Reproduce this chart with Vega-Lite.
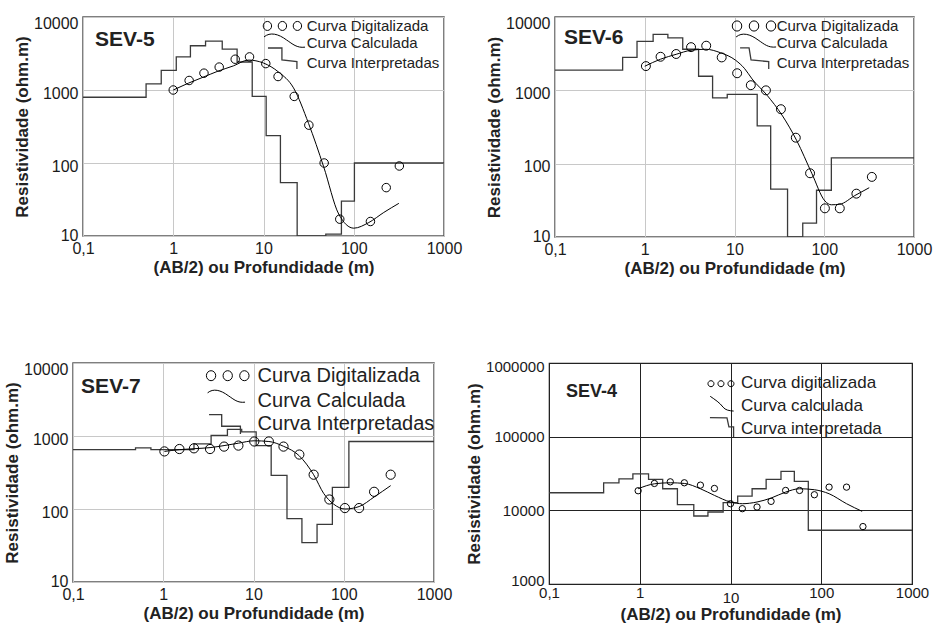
{
  "$schema": "https://vega.github.io/schema/vega-lite/v6.json",
  "background": "white",
  "padding": {"left": 2, "top": 14, "right": 5, "bottom": 5},
  "config": {
    "font": "Liberation Sans",
    "view": {"stroke": "#555", "strokeWidth": 1.5},
    "axis": {
      "ticks": false, "domain": false, "grid": true,
      "gridColor": "#c8c8c8", "gridWidth": 1, "gridOpacity": 1,
      "labelFont": "Liberation Sans", "labelFontSize": 16, "labelColor": "#1a1a1a",
      "titleFont": "Liberation Sans", "titleFontSize": 17, "titleFontWeight": "bold", "titleColor": "#222"
    },
    "axisX": {"labelFlush": false, "labelPadding": 4, "titlePadding": 3},
    "axisY": {"labelPadding": 5, "titlePadding": 2}
  },
  "datasets": {
    "curves": [
      {"p":"SEV-5","s":"d","x":1,"y":1000},{"p":"SEV-5","s":"d","x":1.5,"y":1350},{"p":"SEV-5","s":"d","x":2.19,"y":1700},{"p":"SEV-5","s":"d","x":3.23,"y":2060},{"p":"SEV-5","s":"d","x":4.86,"y":2640},{"p":"SEV-5","s":"d","x":7.0,"y":2840},{"p":"SEV-5","s":"d","x":10.6,"y":2300},{"p":"SEV-5","s":"d","x":14.5,"y":1530},{"p":"SEV-5","s":"d","x":21.9,"y":817},{"p":"SEV-5","s":"d","x":31.8,"y":330},{"p":"SEV-5","s":"d","x":47,"y":100},{"p":"SEV-5","s":"d","x":70,"y":17},{"p":"SEV-5","s":"d","x":153,"y":15.8},{"p":"SEV-5","s":"d","x":229,"y":46},{"p":"SEV-5","s":"d","x":320,"y":91},
      {"p":"SEV-5","s":"c","x":1,"y":1000},{"p":"SEV-5","s":"c","x":1.47,"y":1240},{"p":"SEV-5","s":"c","x":2.15,"y":1500},{"p":"SEV-5","s":"c","x":3.16,"y":1820},{"p":"SEV-5","s":"c","x":4.64,"y":2140},{"p":"SEV-5","s":"c","x":6.81,"y":2570},{"p":"SEV-5","s":"c","x":10,"y":2340},{"p":"SEV-5","s":"c","x":14.7,"y":1760},{"p":"SEV-5","s":"c","x":21.5,"y":1070},{"p":"SEV-5","s":"c","x":31.6,"y":347},{"p":"SEV-5","s":"c","x":46.4,"y":89},{"p":"SEV-5","s":"c","x":68.1,"y":20},{"p":"SEV-5","s":"c","x":100,"y":12.8},{"p":"SEV-5","s":"c","x":147,"y":15.3},{"p":"SEV-5","s":"c","x":215,"y":21},{"p":"SEV-5","s":"c","x":316,"y":28},
      {"p":"SEV-5","s":"i","x":0.1,"y":795},{"p":"SEV-5","s":"i","x":0.5,"y":1210},{"p":"SEV-5","s":"i","x":0.736,"y":1855},{"p":"SEV-5","s":"i","x":1.08,"y":2840},{"p":"SEV-5","s":"i","x":1.55,"y":4040},{"p":"SEV-5","s":"i","x":2.28,"y":4680},{"p":"SEV-5","s":"i","x":3.49,"y":3630},{"p":"SEV-5","s":"i","x":5.1,"y":2420},{"p":"SEV-5","s":"i","x":7.5,"y":817},{"p":"SEV-5","s":"i","x":10.7,"y":237},{"p":"SEV-5","s":"i","x":15.4,"y":54},{"p":"SEV-5","s":"i","x":23.6,"y":10},{"p":"SEV-5","s":"i","x":49,"y":10.6},{"p":"SEV-5","s":"i","x":73,"y":30},{"p":"SEV-5","s":"i","x":101.7,"y":100},{"p":"SEV-5","s":"i","x":1000,"y":100},

      {"p":"SEV-6","s":"d","x":1.03,"y":2140},{"p":"SEV-6","s":"d","x":1.5,"y":2870},{"p":"SEV-6","s":"d","x":2.24,"y":3130},{"p":"SEV-6","s":"d","x":3.28,"y":3880},{"p":"SEV-6","s":"d","x":4.84,"y":4060},{"p":"SEV-6","s":"d","x":7.2,"y":2810},{"p":"SEV-6","s":"d","x":10.7,"y":1710},{"p":"SEV-6","s":"d","x":15.2,"y":1175},{"p":"SEV-6","s":"d","x":22.4,"y":1000},{"p":"SEV-6","s":"d","x":32.9,"y":553},{"p":"SEV-6","s":"d","x":48.2,"y":226},{"p":"SEV-6","s":"d","x":69.5,"y":74},{"p":"SEV-6","s":"d","x":101.7,"y":24.6},{"p":"SEV-6","s":"d","x":149,"y":24.6},{"p":"SEV-6","s":"d","x":228,"y":39},{"p":"SEV-6","s":"d","x":339,"y":66},
      {"p":"SEV-6","s":"c","x":1,"y":2130},{"p":"SEV-6","s":"c","x":1.5,"y":2660},{"p":"SEV-6","s":"c","x":2.24,"y":3100},{"p":"SEV-6","s":"c","x":3.28,"y":3520},{"p":"SEV-6","s":"c","x":4.8,"y":3630},{"p":"SEV-6","s":"c","x":7.0,"y":3250},{"p":"SEV-6","s":"c","x":10.3,"y":2570},{"p":"SEV-6","s":"c","x":13,"y":1970},{"p":"SEV-6","s":"c","x":15.7,"y":1430},{"p":"SEV-6","s":"c","x":23,"y":860},{"p":"SEV-6","s":"c","x":33.8,"y":460},{"p":"SEV-6","s":"c","x":49.5,"y":205},{"p":"SEV-6","s":"c","x":72.6,"y":74},{"p":"SEV-6","s":"c","x":101.7,"y":31},{"p":"SEV-6","s":"c","x":120,"y":27.5},{"p":"SEV-6","s":"c","x":149,"y":28},{"p":"SEV-6","s":"c","x":219,"y":36.7},{"p":"SEV-6","s":"c","x":317,"y":47},
      {"p":"SEV-6","s":"i","x":0.1,"y":1890},{"p":"SEV-6","s":"i","x":0.567,"y":2810},{"p":"SEV-6","s":"i","x":0.82,"y":4660},{"p":"SEV-6","s":"i","x":1.24,"y":5780},{"p":"SEV-6","s":"i","x":1.81,"y":5190},{"p":"SEV-6","s":"i","x":2.65,"y":3630},{"p":"SEV-6","s":"i","x":3.98,"y":1555},{"p":"SEV-6","s":"i","x":5.7,"y":790},{"p":"SEV-6","s":"i","x":8.3,"y":880},{"p":"SEV-6","s":"i","x":17.9,"y":327},{"p":"SEV-6","s":"i","x":25.3,"y":45},{"p":"SEV-6","s":"i","x":39,"y":10},{"p":"SEV-6","s":"i","x":57.6,"y":15.5},{"p":"SEV-6","s":"i","x":82,"y":43.4},{"p":"SEV-6","s":"i","x":120,"y":120},{"p":"SEV-6","s":"i","x":1000,"y":120},

      {"p":"SEV-7","s":"d","x":1.03,"y":615},{"p":"SEV-7","s":"d","x":1.51,"y":663},{"p":"SEV-7","s":"d","x":2.19,"y":678},{"p":"SEV-7","s":"d","x":3.3,"y":663},{"p":"SEV-7","s":"d","x":4.72,"y":716},{"p":"SEV-7","s":"d","x":6.8,"y":739},{"p":"SEV-7","s":"d","x":10.2,"y":841},{"p":"SEV-7","s":"d","x":14.8,"y":841},{"p":"SEV-7","s":"d","x":21.5,"y":716},{"p":"SEV-7","s":"d","x":32.2,"y":557},{"p":"SEV-7","s":"d","x":46.4,"y":295},{"p":"SEV-7","s":"d","x":69.3,"y":135},{"p":"SEV-7","s":"d","x":103,"y":103},{"p":"SEV-7","s":"d","x":148,"y":103},{"p":"SEV-7","s":"d","x":217,"y":172},{"p":"SEV-7","s":"d","x":331,"y":295},
      {"p":"SEV-7","s":"c","x":1.03,"y":615},{"p":"SEV-7","s":"c","x":1.51,"y":650},{"p":"SEV-7","s":"c","x":2.19,"y":670},{"p":"SEV-7","s":"c","x":3.3,"y":693},{"p":"SEV-7","s":"c","x":4.72,"y":739},{"p":"SEV-7","s":"c","x":6.8,"y":797},{"p":"SEV-7","s":"c","x":10.2,"y":860},{"p":"SEV-7","s":"c","x":14.8,"y":841},{"p":"SEV-7","s":"c","x":21.5,"y":723},{"p":"SEV-7","s":"c","x":32.2,"y":534},{"p":"SEV-7","s":"c","x":46.4,"y":295},{"p":"SEV-7","s":"c","x":60,"y":163},{"p":"SEV-7","s":"c","x":77,"y":117},{"p":"SEV-7","s":"c","x":103,"y":100},{"p":"SEV-7","s":"c","x":148,"y":108},{"p":"SEV-7","s":"c","x":217,"y":146},{"p":"SEV-7","s":"c","x":331,"y":209},
      {"p":"SEV-7","s":"i","x":0.1,"y":649},{"p":"SEV-7","s":"i","x":0.493,"y":686},{"p":"SEV-7","s":"i","x":0.73,"y":649},{"p":"SEV-7","s":"i","x":2.19,"y":780},{"p":"SEV-7","s":"i","x":3.39,"y":1020},{"p":"SEV-7","s":"i","x":5.14,"y":1230},{"p":"SEV-7","s":"i","x":7.4,"y":1140},{"p":"SEV-7","s":"i","x":10.7,"y":739},{"p":"SEV-7","s":"i","x":15.7,"y":289},{"p":"SEV-7","s":"i","x":23.5,"y":74},{"p":"SEV-7","s":"i","x":34.4,"y":34.7},{"p":"SEV-7","s":"i","x":50.6,"y":61.5},{"p":"SEV-7","s":"i","x":74.8,"y":198},{"p":"SEV-7","s":"i","x":114,"y":841},{"p":"SEV-7","s":"i","x":1000,"y":841},

      {"p":"SEV-4","s":"d","x":0.96,"y":18450},{"p":"SEV-4","s":"d","x":1.45,"y":23170},{"p":"SEV-4","s":"d","x":2.17,"y":24380},{"p":"SEV-4","s":"d","x":3.1,"y":23660},{"p":"SEV-4","s":"d","x":4.66,"y":21980},{"p":"SEV-4","s":"d","x":6.65,"y":19820},{"p":"SEV-4","s":"d","x":10,"y":12300},{"p":"SEV-4","s":"d","x":13.5,"y":10530},{"p":"SEV-4","s":"d","x":19.6,"y":11090},{"p":"SEV-4","s":"d","x":28,"y":13230},{"p":"SEV-4","s":"d","x":40.5,"y":18620},{"p":"SEV-4","s":"d","x":57.7,"y":18620},{"p":"SEV-4","s":"d","x":84,"y":16280},{"p":"SEV-4","s":"d","x":122,"y":20650},{"p":"SEV-4","s":"d","x":190,"y":20650},{"p":"SEV-4","s":"d","x":288,"y":6020},
      {"p":"SEV-4","s":"c","x":0.96,"y":19630},{"p":"SEV-4","s":"c","x":1.45,"y":22910},{"p":"SEV-4","s":"c","x":2.17,"y":23660},{"p":"SEV-4","s":"c","x":3.1,"y":23170},{"p":"SEV-4","s":"c","x":4.66,"y":19630},{"p":"SEV-4","s":"c","x":6.65,"y":15960},{"p":"SEV-4","s":"c","x":10,"y":12970},{"p":"SEV-4","s":"c","x":13.5,"y":12300},{"p":"SEV-4","s":"c","x":19.6,"y":12970},{"p":"SEV-4","s":"c","x":28,"y":14680},{"p":"SEV-4","s":"c","x":40.5,"y":17700},{"p":"SEV-4","s":"c","x":57.7,"y":19630},{"p":"SEV-4","s":"c","x":84,"y":19040},{"p":"SEV-4","s":"c","x":122,"y":16790},{"p":"SEV-4","s":"c","x":190,"y":12300},{"p":"SEV-4","s":"c","x":282,"y":9690},
      {"p":"SEV-4","s":"i","x":0.1,"y":17330},{"p":"SEV-4","s":"i","x":0.4,"y":23660},{"p":"SEV-4","s":"i","x":0.59,"y":26790},{"p":"SEV-4","s":"i","x":0.84,"y":31290},{"p":"SEV-4","s":"i","x":1.25,"y":26240},{"p":"SEV-4","s":"i","x":1.79,"y":19630},{"p":"SEV-4","s":"i","x":2.6,"y":11930},{"p":"SEV-4","s":"i","x":3.94,"y":8380},{"p":"SEV-4","s":"i","x":5.64,"y":9490},{"p":"SEV-4","s":"i","x":8.3,"y":12700},{"p":"SEV-4","s":"i","x":12,"y":15630},{"p":"SEV-4","s":"i","x":17.3,"y":19630},{"p":"SEV-4","s":"i","x":24.7,"y":26240},{"p":"SEV-4","s":"i","x":36,"y":33900},{"p":"SEV-4","s":"i","x":50.5,"y":24660},{"p":"SEV-4","s":"i","x":72,"y":5370},{"p":"SEV-4","s":"i","x":1000,"y":5370}
    ],
    "notes": [
      {"p":"SEV-5","k":"title","x":0.136,"y":4840,"t":"SEV-5"},
      {"p":"SEV-5","k":"leg","x":30.1,"y":7540,"t":"Curva Digitalizada"},
      {"p":"SEV-5","k":"leg","x":30.1,"y":4365,"t":"Curva Calculada"},
      {"p":"SEV-5","k":"leg","x":30.1,"y":2320,"t":"Curva Interpretadas"},
      {"p":"SEV-6","k":"title","x":0.126,"y":5180,"t":"SEV-6"},
      {"p":"SEV-6","k":"leg","x":29.5,"y":7540,"t":"Curva Digitalizada"},
      {"p":"SEV-6","k":"leg","x":29.5,"y":4470,"t":"Curva Calculada"},
      {"p":"SEV-6","k":"leg","x":29.5,"y":2340,"t":"Curva Interpretadas"},
      {"p":"SEV-7","k":"title","x":0.123,"y":4690,"t":"SEV-7"},
      {"p":"SEV-7","k":"leg","x":11.1,"y":6700,"t":"Curva Digitalizada"},
      {"p":"SEV-7","k":"leg","x":11.1,"y":3050,"t":"Curva Calculada"},
      {"p":"SEV-7","k":"leg","x":11.1,"y":1460,"t":"Curva Interpretadas"},
      {"p":"SEV-4","k":"title","x":0.154,"y":403600,"t":"SEV-4"},
      {"p":"SEV-4","k":"leg","x":13.05,"y":535000,"t":"Curva digitalizada"},
      {"p":"SEV-4","k":"leg","x":13.05,"y":260600,"t":"Curva calculada"},
      {"p":"SEV-4","k":"leg","x":13.05,"y":128300,"t":"Curva interpretada"}
    ],
    "keys": [
      {"p":"SEV-5","k":"d","x":16.2,"y":7540},{"p":"SEV-5","k":"c","x":17.1,"y":4690},{"p":"SEV-5","k":"i","x":16.0,"y":2700},
      {"p":"SEV-6","k":"d","x":16.5,"y":7540},{"p":"SEV-6","k":"c","x":17.4,"y":4710},{"p":"SEV-6","k":"i","x":16.5,"y":2720},
      {"p":"SEV-7","k":"d","x":5.18,"y":6700},{"p":"SEV-7","k":"c","x":5.0,"y":3470},{"p":"SEV-7","k":"i","x":4.8,"y":1446},
      {"p":"SEV-4","k":"d","x":7.85,"y":523600},{"p":"SEV-4","k":"c","x":8.05,"y":280300},{"p":"SEV-4","k":"i","x":8.05,"y":134000}
    ]
  },
  "spacing": 81,
  "vconcat": [
    {
      "bounds": "full",
      "spacing": 21,
      "hconcat": [
        {
          "bounds": "flush",
          "spacing": 0,
          "hconcat": [
            {
              "width": 10, "height": 10,
              "view": {"stroke": null},
              "data": {"values": []},
              "mark": {"type": "text"},
              "encoding": {}
            },
            {
              "width": 361, "height": 219,
              "layer": [
                {"data": {"name": "curves"}, "transform": [{"filter": "datum.p == 'SEV-5' && datum.s == 'i'"}],
                 "mark": {"type": "line", "interpolate": "step-after", "color": "#3a3a3a", "strokeWidth": 1.3, "clip": true},
                 "encoding": {
                   "x": {"field": "x", "type": "quantitative", "scale": {"type": "log", "domain": [0.1, 1000], "nice": false},
                         "axis": {"values": [0.1, 1, 10, 100, 1000], "labelExpr": "replace(format(datum.value, '~g'), '.', ',')", "title": "(AB/2) ou Profundidade (m)"}},
                   "y": {"field": "y", "type": "quantitative", "scale": {"type": "log", "domain": [10, 10000], "nice": false},
                         "axis": {"values": [10, 100, 1000, 10000], "format": "d", "title": "Resistividade (ohm.m)",
                                  "labelOffset": {"condition": [{"test": "datum.value >= 10000", "value": 6}, {"test": "datum.value <= 10", "value": -1}], "value": 3}}}}},
                {"data": {"name": "curves"}, "transform": [{"filter": "datum.p == 'SEV-5' && datum.s == 'c'"}],
                 "mark": {"type": "line", "interpolate": "monotone", "color": "#000", "strokeWidth": 1, "clip": true},
                 "encoding": {"x": {"field": "x", "type": "quantitative"}, "y": {"field": "y", "type": "quantitative"}}},
                {"data": {"name": "curves"}, "transform": [{"filter": "datum.p == 'SEV-5' && datum.s == 'd'"}],
                 "mark": {"type": "point", "shape": "circle", "size": 72, "filled": false, "color": "#000", "strokeWidth": 1, "opacity": 1},
                 "encoding": {"x": {"field": "x", "type": "quantitative"}, "y": {"field": "y", "type": "quantitative"}}},
                {"data": {"name": "notes"}, "transform": [{"filter": "datum.p == 'SEV-5' && datum.k == 'title'"}],
                 "mark": {"type": "text", "align": "left", "baseline": "middle", "fontSize": 21, "fontWeight": "bold", "color": "#222"},
                 "encoding": {"x": {"field": "x", "type": "quantitative"}, "y": {"field": "y", "type": "quantitative"}, "text": {"field": "t"}}},
                {"data": {"name": "notes"}, "transform": [{"filter": "datum.p == 'SEV-5' && datum.k == 'leg'"}],
                 "mark": {"type": "text", "align": "left", "baseline": "middle", "fontSize": 15, "color": "#222"},
                 "encoding": {"x": {"field": "x", "type": "quantitative"}, "y": {"field": "y", "type": "quantitative"}, "text": {"field": "t"}}},
                {"data": {"name": "keys"}, "transform": [{"filter": "datum.p == 'SEV-5' && datum.k == 'd'"}],
                 "mark": {"type": "point", "shape": "M-0.72,0A0.28,0.3,0,1,0,-1.28,0A0.28,0.3,0,1,0,-0.72,0ZM0.28,0A0.28,0.3,0,1,0,-0.28,0A0.28,0.3,0,1,0,0.28,0ZM1.28,0A0.28,0.3,0,1,0,0.72,0A0.28,0.3,0,1,0,1.28,0Z", "size": 900, "filled": false, "color": "#000", "strokeWidth": 1, "opacity": 1},
                 "encoding": {"x": {"field": "x", "type": "quantitative"}, "y": {"field": "y", "type": "quantitative"}}},
                {"data": {"name": "keys"}, "transform": [{"filter": "datum.p == 'SEV-5' && datum.k == 'c'"}],
                 "mark": {"type": "point", "shape": "M-1,-0.2C-0.7,-0.45,-0.3,-0.35,0.1,-0.05C0.4,0.15,0.6,0.35,1,0.3", "size": 1681, "filled": false, "color": "#000", "strokeWidth": 1, "opacity": 1},
                 "encoding": {"x": {"field": "x", "type": "quantitative"}, "y": {"field": "y", "type": "quantitative"}}},
                {"data": {"name": "keys"}, "transform": [{"filter": "datum.p == 'SEV-5' && datum.k == 'i'"}],
                 "mark": {"type": "point", "shape": "M-0.93,-0.7H0V0.1L1,0.2V0.7", "size": 900, "filled": false, "color": "#3a3a3a", "strokeWidth": 1.3, "opacity": 1},
                 "encoding": {"x": {"field": "x", "type": "quantitative"}, "y": {"field": "y", "type": "quantitative"}}}
              ]
            }
          ]
        },
        {
          "width": 359, "height": 220,
          "layer": [
            {"data": {"name": "curves"}, "transform": [{"filter": "datum.p == 'SEV-6' && datum.s == 'i'"}],
             "mark": {"type": "line", "interpolate": "step-after", "color": "#3a3a3a", "strokeWidth": 1.3, "clip": true},
             "encoding": {
               "x": {"field": "x", "type": "quantitative", "scale": {"type": "log", "domain": [0.1, 1000], "nice": false},
                     "axis": {"values": [0.1, 1, 10, 100, 1000], "labelExpr": "replace(format(datum.value, '~g'), '.', ',')", "title": "(AB/2) ou Profundidade (m)"}},
               "y": {"field": "y", "type": "quantitative", "scale": {"type": "log", "domain": [10, 10000], "nice": false},
                     "axis": {"values": [10, 100, 1000, 10000], "format": "d", "title": "Resistividade (ohm.m)",
                              "labelOffset": {"condition": [{"test": "datum.value >= 10000", "value": 6}, {"test": "datum.value <= 10", "value": -1}], "value": 3}}}}},
            {"data": {"name": "curves"}, "transform": [{"filter": "datum.p == 'SEV-6' && datum.s == 'c'"}],
             "mark": {"type": "line", "interpolate": "monotone", "color": "#000", "strokeWidth": 1, "clip": true},
             "encoding": {"x": {"field": "x", "type": "quantitative"}, "y": {"field": "y", "type": "quantitative"}}},
            {"data": {"name": "curves"}, "transform": [{"filter": "datum.p == 'SEV-6' && datum.s == 'd'"}],
             "mark": {"type": "point", "shape": "circle", "size": 80, "filled": false, "color": "#000", "strokeWidth": 1, "opacity": 1},
             "encoding": {"x": {"field": "x", "type": "quantitative"}, "y": {"field": "y", "type": "quantitative"}}},
            {"data": {"name": "notes"}, "transform": [{"filter": "datum.p == 'SEV-6' && datum.k == 'title'"}],
             "mark": {"type": "text", "align": "left", "baseline": "middle", "fontSize": 21, "fontWeight": "bold", "color": "#222"},
             "encoding": {"x": {"field": "x", "type": "quantitative"}, "y": {"field": "y", "type": "quantitative"}, "text": {"field": "t"}}},
            {"data": {"name": "notes"}, "transform": [{"filter": "datum.p == 'SEV-6' && datum.k == 'leg'"}],
             "mark": {"type": "text", "align": "left", "baseline": "middle", "fontSize": 15, "color": "#222"},
             "encoding": {"x": {"field": "x", "type": "quantitative"}, "y": {"field": "y", "type": "quantitative"}, "text": {"field": "t"}}},
            {"data": {"name": "keys"}, "transform": [{"filter": "datum.p == 'SEV-6' && datum.k == 'd'"}],
             "mark": {"type": "point", "shape": "M-0.72,0A0.28,0.3,0,1,0,-1.28,0A0.28,0.3,0,1,0,-0.72,0ZM0.28,0A0.28,0.3,0,1,0,-0.28,0A0.28,0.3,0,1,0,0.28,0ZM1.28,0A0.28,0.3,0,1,0,0.72,0A0.28,0.3,0,1,0,1.28,0Z", "size": 1156, "filled": false, "color": "#000", "strokeWidth": 1, "opacity": 1},
             "encoding": {"x": {"field": "x", "type": "quantitative"}, "y": {"field": "y", "type": "quantitative"}}},
            {"data": {"name": "keys"}, "transform": [{"filter": "datum.p == 'SEV-6' && datum.k == 'c'"}],
             "mark": {"type": "point", "shape": "M-1,-0.2C-0.7,-0.45,-0.3,-0.35,0.1,-0.05C0.4,0.15,0.6,0.35,1,0.3", "size": 1600, "filled": false, "color": "#000", "strokeWidth": 1, "opacity": 1},
             "encoding": {"x": {"field": "x", "type": "quantitative"}, "y": {"field": "y", "type": "quantitative"}}},
            {"data": {"name": "keys"}, "transform": [{"filter": "datum.p == 'SEV-6' && datum.k == 'i'"}],
             "mark": {"type": "point", "shape": "M-0.93,-0.7H-0.33L-0.2,0.1L0.98,0.21V0.7", "size": 900, "filled": false, "color": "#3a3a3a", "strokeWidth": 1.3, "opacity": 1},
             "encoding": {"x": {"field": "x", "type": "quantitative"}, "y": {"field": "y", "type": "quantitative"}}}
          ]
        }
      ]
    },
    {
      "bounds": "flush",
      "spacing": 115,
      "hconcat": [
        {
          "width": 361, "height": 219,
          "layer": [
            {"data": {"name": "curves"}, "transform": [{"filter": "datum.p == 'SEV-7' && datum.s == 'i'"}],
             "mark": {"type": "line", "interpolate": "step-after", "color": "#3a3a3a", "strokeWidth": 1.3, "clip": true},
             "encoding": {
               "x": {"field": "x", "type": "quantitative", "scale": {"type": "log", "domain": [0.1, 1000], "nice": false},
                     "axis": {"values": [0.1, 1, 10, 100, 1000], "labelExpr": "replace(format(datum.value, '~g'), '.', ',')", "title": "(AB/2) ou Profundidade (m)"}},
               "y": {"field": "y", "type": "quantitative", "scale": {"type": "log", "domain": [10, 10000], "nice": false},
                     "axis": {"values": [10, 100, 1000, 10000], "format": "d", "title": "Resistividade (ohm.m)",
                              "labelOffset": {"condition": [{"test": "datum.value >= 10000", "value": 6}, {"test": "datum.value <= 10", "value": -1}], "value": 3}}}}},
            {"data": {"name": "curves"}, "transform": [{"filter": "datum.p == 'SEV-7' && datum.s == 'c'"}],
             "mark": {"type": "line", "interpolate": "monotone", "color": "#000", "strokeWidth": 1, "clip": true},
             "encoding": {"x": {"field": "x", "type": "quantitative"}, "y": {"field": "y", "type": "quantitative"}}},
            {"data": {"name": "curves"}, "transform": [{"filter": "datum.p == 'SEV-7' && datum.s == 'd'"}],
             "mark": {"type": "point", "shape": "circle", "size": 85, "filled": false, "color": "#000", "strokeWidth": 1, "opacity": 1},
             "encoding": {"x": {"field": "x", "type": "quantitative"}, "y": {"field": "y", "type": "quantitative"}}},
            {"data": {"name": "notes"}, "transform": [{"filter": "datum.p == 'SEV-7' && datum.k == 'title'"}],
             "mark": {"type": "text", "align": "left", "baseline": "middle", "fontSize": 21, "fontWeight": "bold", "color": "#222"},
             "encoding": {"x": {"field": "x", "type": "quantitative"}, "y": {"field": "y", "type": "quantitative"}, "text": {"field": "t"}}},
            {"data": {"name": "notes"}, "transform": [{"filter": "datum.p == 'SEV-7' && datum.k == 'leg'"}],
             "mark": {"type": "text", "align": "left", "baseline": "middle", "fontSize": 20, "color": "#222"},
             "encoding": {"x": {"field": "x", "type": "quantitative"}, "y": {"field": "y", "type": "quantitative"}, "text": {"field": "t"}}},
            {"data": {"name": "keys"}, "transform": [{"filter": "datum.p == 'SEV-7' && datum.k == 'd'"}],
             "mark": {"type": "point", "shape": "M-0.72,0A0.28,0.3,0,1,0,-1.28,0A0.28,0.3,0,1,0,-0.72,0ZM0.28,0A0.28,0.3,0,1,0,-0.28,0A0.28,0.3,0,1,0,0.28,0ZM1.28,0A0.28,0.3,0,1,0,0.72,0A0.28,0.3,0,1,0,1.28,0Z", "size": 1111, "filled": false, "color": "#000", "strokeWidth": 1, "opacity": 1},
             "encoding": {"x": {"field": "x", "type": "quantitative"}, "y": {"field": "y", "type": "quantitative"}}},
            {"data": {"name": "keys"}, "transform": [{"filter": "datum.p == 'SEV-7' && datum.k == 'c'"}],
             "mark": {"type": "point", "shape": "M-1,-0.2C-0.7,-0.45,-0.3,-0.35,0.1,-0.05C0.4,0.15,0.6,0.35,1,0.3", "size": 1400, "filled": false, "color": "#000", "strokeWidth": 1, "opacity": 1},
             "encoding": {"x": {"field": "x", "type": "quantitative"}, "y": {"field": "y", "type": "quantitative"}}},
            {"data": {"name": "keys"}, "transform": [{"filter": "datum.p == 'SEV-7' && datum.k == 'i'"}],
             "mark": {"type": "point", "shape": "M-0.98,-0.6H-0.19V0.12H0.98V0.6", "size": 1024, "filled": false, "color": "#3a3a3a", "strokeWidth": 1.3, "opacity": 1},
             "encoding": {"x": {"field": "x", "type": "quantitative"}, "y": {"field": "y", "type": "quantitative"}}}
          ]
        },
        {
          "width": 363, "height": 221,
          "view": {"stroke": "#222", "strokeWidth": 1.2},
          "layer": [
            {"data": {"name": "curves"}, "transform": [{"filter": "datum.p == 'SEV-4' && datum.s == 'i'"}],
             "mark": {"type": "line", "interpolate": "step-after", "color": "#3a3a3a", "strokeWidth": 1.3, "clip": true},
             "encoding": {
               "x": {"field": "x", "type": "quantitative", "scale": {"type": "log", "domain": [0.1, 1000], "nice": false},
                     "axis": {"values": [0.1, 1, 10, 100, 1000], "labelExpr": "replace(format(datum.value, '~g'), '.', ',')", "title": "(AB/2) ou Profundidade (m)", "gridColor": "#222", "labelFontSize": 15, "titlePadding": 1,
                              "labelPadding": {"condition": {"test": "datum.value == 10", "value": 6}, "value": 1}}},
               "y": {"field": "y", "type": "quantitative", "scale": {"type": "log", "domain": [1000, 1000000], "nice": false},
                     "axis": {"values": [1000, 10000, 100000, 1000000], "format": "d", "title": "Resistividade (ohm.m)", "gridColor": "#222", "labelFontSize": 15,
                              "labelOffset": {"condition": [{"test": "datum.value >= 1000000", "value": 3}, {"test": "datum.value <= 1000", "value": -4}], "value": 0}}}}},
            {"data": {"name": "curves"}, "transform": [{"filter": "datum.p == 'SEV-4' && datum.s == 'c'"}],
             "mark": {"type": "line", "interpolate": "monotone", "color": "#000", "strokeWidth": 1, "clip": true},
             "encoding": {"x": {"field": "x", "type": "quantitative"}, "y": {"field": "y", "type": "quantitative"}}},
            {"data": {"name": "curves"}, "transform": [{"filter": "datum.p == 'SEV-4' && datum.s == 'd'"}],
             "mark": {"type": "point", "shape": "circle", "size": 40, "filled": false, "color": "#000", "strokeWidth": 1, "opacity": 1},
             "encoding": {"x": {"field": "x", "type": "quantitative"}, "y": {"field": "y", "type": "quantitative"}}},
            {"data": {"name": "notes"}, "transform": [{"filter": "datum.p == 'SEV-4' && datum.k == 'title'"}],
             "mark": {"type": "text", "align": "left", "baseline": "middle", "fontSize": 18, "fontWeight": "bold", "color": "#222"},
             "encoding": {"x": {"field": "x", "type": "quantitative"}, "y": {"field": "y", "type": "quantitative"}, "text": {"field": "t"}}},
            {"data": {"name": "notes"}, "transform": [{"filter": "datum.p == 'SEV-4' && datum.k == 'leg'"}],
             "mark": {"type": "text", "align": "left", "baseline": "middle", "fontSize": 17, "color": "#222"},
             "encoding": {"x": {"field": "x", "type": "quantitative"}, "y": {"field": "y", "type": "quantitative"}, "text": {"field": "t"}}},
            {"data": {"name": "keys"}, "transform": [{"filter": "datum.p == 'SEV-4' && datum.k == 'd'"}],
             "mark": {"type": "point", "shape": "M-0.7,0A0.3,0.3,0,1,0,-1.3,0A0.3,0.3,0,1,0,-0.7,0ZM0.3,0A0.3,0.3,0,1,0,-0.3,0A0.3,0.3,0,1,0,0.3,0ZM1.3,0A0.3,0.3,0,1,0,0.7,0A0.3,0.3,0,1,0,1.3,0Z", "size": 400, "filled": false, "color": "#000", "strokeWidth": 1, "opacity": 1},
             "encoding": {"x": {"field": "x", "type": "quantitative"}, "y": {"field": "y", "type": "quantitative"}}},
            {"data": {"name": "keys"}, "transform": [{"filter": "datum.p == 'SEV-4' && datum.k == 'c'"}],
             "mark": {"type": "point", "shape": "M-1,-0.63C-0.6,-0.35,-0.2,-0.1,0.1,0.3C0.3,0.55,0.6,0.6,1,0.63", "size": 548, "filled": false, "color": "#000", "strokeWidth": 1, "opacity": 1},
             "encoding": {"x": {"field": "x", "type": "quantitative"}, "y": {"field": "y", "type": "quantitative"}}},
            {"data": {"name": "keys"}, "transform": [{"filter": "datum.p == 'SEV-4' && datum.k == 'i'"}],
             "mark": {"type": "point", "shape": "M-1,-0.8L0.42,-0.78L0.58,-0.03H0.97V0.8", "size": 576, "filled": false, "color": "#3a3a3a", "strokeWidth": 1.3, "opacity": 1},
             "encoding": {"x": {"field": "x", "type": "quantitative"}, "y": {"field": "y", "type": "quantitative"}}}
          ]
        }
      ]
    }
  ]
}
